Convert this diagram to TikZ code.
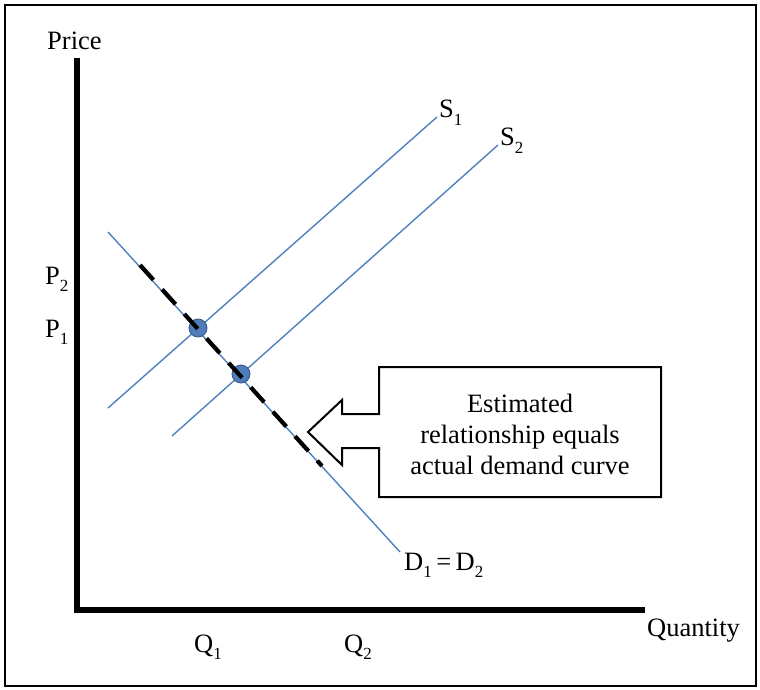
\documentclass[tikz,border=0pt]{standalone}
\usepackage{fontspec}
\setmainfont{Liberation Serif}
\newcommand\sbs[1]{\raisebox{-0.28em}{\fontsize{17}{17}\selectfont #1}}
\begin{document}
\begin{tikzpicture}[x=1pt,y=-1pt,
  lbl/.style={inner sep=0pt,anchor=base west,font=\fontsize{26.5}{30}\selectfont},
  curve/.style={draw=curveblue,line width=1.4pt},
  axis/.style={draw=black,line width=6pt},
  eqdot/.style={circle,fill=dotblue,draw=dotedge,line width=0.8pt,minimum size=18pt,inner sep=0pt},
  dashseg/.style={draw=black,line width=4.2pt,dash pattern=on 20pt off 13pt},
  callout/.style={draw=black,line width=2pt,fill=white}]
\definecolor{curveblue}{RGB}{79,129,189}
\definecolor{dotblue}{RGB}{79,125,185}
\definecolor{dotedge}{RGB}{50,85,135}
\useasboundingbox (0,0) rectangle (760,690);
\draw[line width=1.5pt] (5,5) rectangle (756,686);
% axes
\coordinate (ytop) at (77,58);
\coordinate (orig) at (77,610);
\coordinate (xend) at (645,610);
\draw[axis] (ytop) -- (77,613);
\draw[axis] (74,610) -- (xend);
% curves
\coordinate (s1a) at (108,408); \coordinate (s1b) at (437,117);
\coordinate (s2a) at (172,436); \coordinate (s2b) at (498,145);
\coordinate (da) at (108,232); \coordinate (db) at (400,552);
\draw[curve] (s1a) -- (s1b);
\draw[curve] (s2a) -- (s2b);
\draw[curve] (da) -- (db);
% equilibrium dots
\node[eqdot] (e1) at (198,328) {};
\node[eqdot] (e2) at (241,374) {};
% dashed estimated relationship
\coordinate (ea) at (140,265); \coordinate (eb) at (322,466);
\draw[dashseg] (ea) -- (eb);
% labels
\node[lbl] (price) at (47,50) {Price};
\node[lbl] (p2) at (45,284) {P\sbs{2}};
\node[lbl] (p1) at (45,337) {P\sbs{1}};
\node[lbl] (s1) at (439,118) {S\sbs{1}};
\node[lbl] (s2) at (500,146) {S\sbs{2}};
\node[lbl] (dl) at (404,570) {D\sbs{1}\,=\,D\sbs{2}};
\node[lbl] (q1) at (194,652) {Q\sbs{1}};
\node[lbl] (q2) at (344,652) {Q\sbs{2}};
\node[lbl] (qty) at (647,636) {Quantity};
% callout
\draw[callout] (379,367) -- (661,367) -- (661,497) -- (379,497) -- (379,448)
  -- (342,448) -- (342,465) -- (308,432) -- (342,400) -- (342,414) -- (379,414) -- cycle;
\node[align=center,inner sep=0pt,font=\fontsize{26.5}{31}\selectfont] (note) at (520,434)
  {Estimated\\relationship equals\\actual demand curve};
\end{tikzpicture}
\end{document}
